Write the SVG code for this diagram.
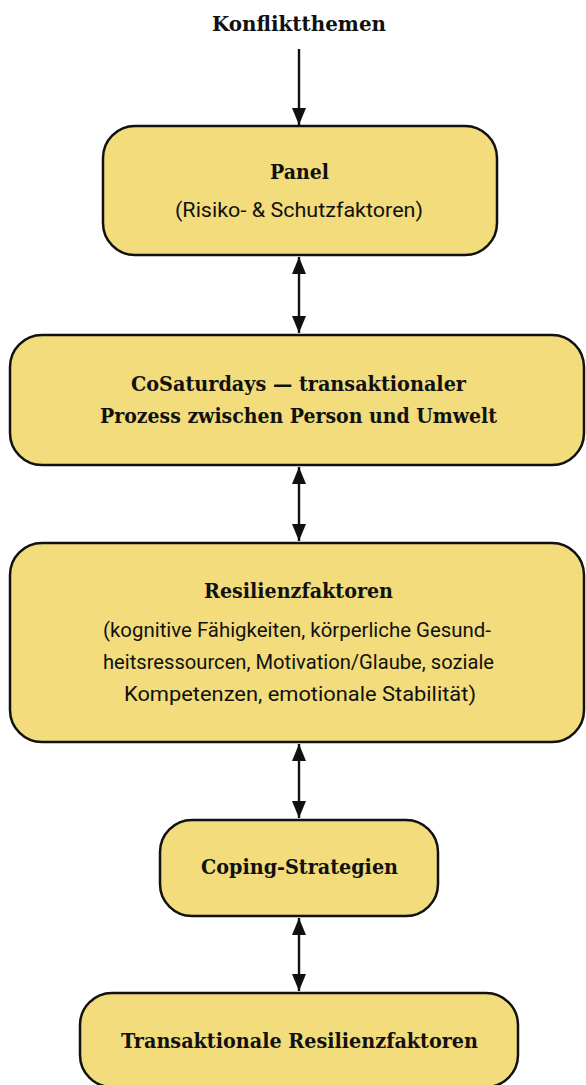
<svg xmlns="http://www.w3.org/2000/svg" width="586" height="1085" viewBox="0 0 586 1085">
<style>
.box{fill:#F2DC7B;stroke:#111;stroke-width:2.5}
.t{font-family:"DejaVu Serif","Liberation Serif",serif;font-weight:bold;font-size:20px;fill:#111;text-anchor:middle}
.s{font-family:Roboto,"Liberation Sans",sans-serif;font-size:19.5px;fill:#111;text-anchor:middle}
.c{stroke:#111;stroke-width:2.4;fill:none}
</style>
<defs>
<marker id="ah" markerUnits="userSpaceOnUse" markerWidth="17" markerHeight="14" refX="17" refY="7" orient="auto-start-reverse" viewBox="0 0 17 14">
<path d="M0,0 L17,7 L0,14 z" fill="#111"/>
</marker>
</defs>
<g id="title">
<text class="t" x="299" y="31" textLength="174" lengthAdjust="spacingAndGlyphs">Konfliktthemen</text>
</g>
<g id="connectors">
<line class="c" x1="299" y1="49" x2="299" y2="125" marker-end="url(#ah)"/>
<line class="c" x1="299" y1="257" x2="299" y2="333" marker-start="url(#ah)" marker-end="url(#ah)"/>
<line class="c" x1="299" y1="467" x2="299" y2="541" marker-start="url(#ah)" marker-end="url(#ah)"/>
<line class="c" x1="299" y1="744" x2="299" y2="818" marker-start="url(#ah)" marker-end="url(#ah)"/>
<line class="c" x1="299" y1="918" x2="299" y2="991" marker-start="url(#ah)" marker-end="url(#ah)"/>
</g>
<g id="panel">
<rect class="box" x="103" y="126" width="394" height="129" rx="32"/>
<text class="t" x="299.5" y="179" textLength="59" lengthAdjust="spacingAndGlyphs">Panel</text>
<text class="s" x="299" y="217" textLength="248" lengthAdjust="spacingAndGlyphs">(Risiko- &amp; Schutzfaktoren)</text>
</g>
<g id="cosaturdays">
<rect class="box" x="10" y="335" width="574" height="130" rx="32"/>
<text class="t" x="298.5" y="391" textLength="335" lengthAdjust="spacingAndGlyphs">CoSaturdays — transaktionaler</text>
<text class="t" x="298.5" y="423" textLength="397" lengthAdjust="spacingAndGlyphs">Prozess zwischen Person und Umwelt</text>
</g>
<g id="resilienz">
<rect class="box" x="10" y="543" width="574" height="199" rx="32"/>
<text class="t" x="298.5" y="598" textLength="189" lengthAdjust="spacingAndGlyphs">Resilienzfaktoren</text>
<text class="s" x="297" y="637" textLength="388" lengthAdjust="spacingAndGlyphs">(kognitive Fähigkeiten, körperliche Gesund-</text>
<text class="s" x="298.5" y="669" textLength="391" lengthAdjust="spacingAndGlyphs">heitsressourcen, Motivation/Glaube, soziale</text>
<text class="s" x="300" y="701" textLength="352" lengthAdjust="spacingAndGlyphs">Kompetenzen, emotionale Stabilität)</text>
</g>
<g id="coping">
<rect class="box" x="160" y="820" width="278" height="96" rx="32"/>
<text class="t" x="299.5" y="874" textLength="197" lengthAdjust="spacingAndGlyphs">Coping-Strategien</text>
</g>
<g id="transaktional">
<rect class="box" x="80" y="993" width="438" height="94" rx="32"/>
<text class="t" x="299.5" y="1048" textLength="357" lengthAdjust="spacingAndGlyphs">Transaktionale Resilienzfaktoren</text>
</g>
</svg>
